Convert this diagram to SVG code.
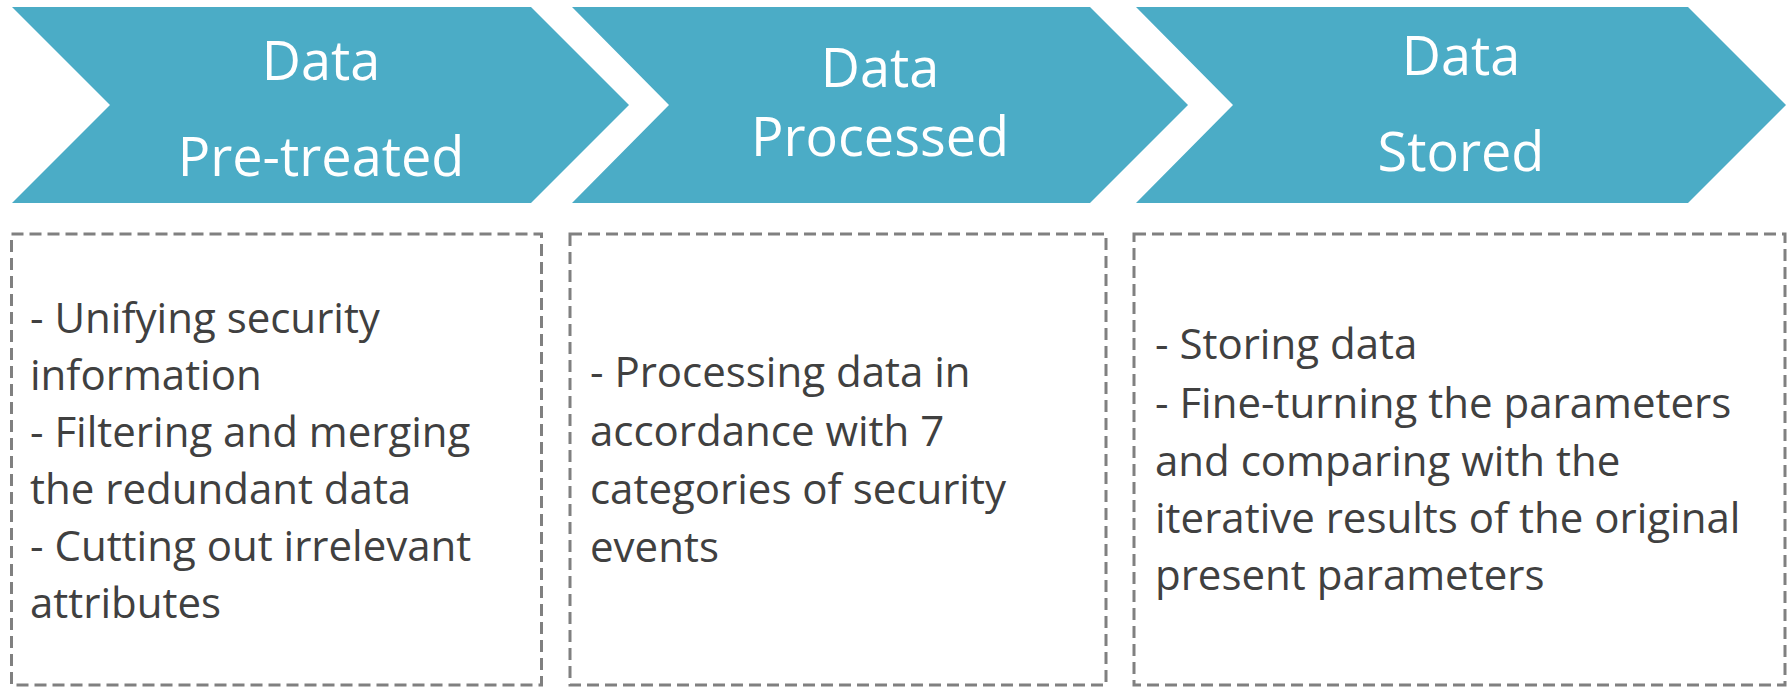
<svg xmlns="http://www.w3.org/2000/svg" width="1788" height="687" viewBox="0 0 1788 687">
<style>
.chev{fill:#4BACC6;stroke:none}
.title{font-family:"Open Sans","Liberation Sans",sans-serif;font-size:54px;fill:#FFFFFF;text-anchor:middle}
.box{fill:#FFFFFF;stroke:#808080;stroke-width:3;stroke-dasharray:12 6}
.body{font-family:"Open Sans","Liberation Sans",sans-serif;font-size:42px;fill:#404040}
</style>
<rect width="1788" height="687" fill="#FFFFFF"/>
<g id="stage-pretreated">
<polygon class="chev" points="12,7 531,7 629,105 531,203 12,203 110,105"/>
<text class="title" x="321" y="80">Data</text>
<text class="title" x="321" y="176">Pre-treated</text>
</g>
<g id="stage-processed">
<polygon class="chev" points="572,7 1090,7 1188,105 1090,203 572,203 669,105"/>
<text class="title" x="880" y="87">Data</text>
<text class="title" x="880" y="156">Processed</text>
</g>
<g id="stage-stored">
<polygon class="chev" points="1136,7 1688,7 1786,105 1688,203 1136,203 1233,105"/>
<text class="title" x="1461" y="75">Data</text>
<text class="title" x="1461" y="171">Stored</text>
</g>
<g id="box-pretreated">
<rect class="box" x="11.5" y="234" width="530" height="451"/>
<text class="body" x="30" y="333">- Unifying security</text>
<text class="body" x="30" y="390">information</text>
<text class="body" x="30" y="447">- Filtering and merging</text>
<text class="body" x="30" y="504">the redundant data</text>
<text class="body" x="30" y="561">- Cutting out irrelevant</text>
<text class="body" x="30" y="618">attributes</text>
</g>
<g id="box-processed">
<rect class="box" x="570" y="234" width="536" height="451"/>
<text class="body" x="590" y="387">- Processing data in</text>
<text class="body" x="590" y="446">accordance with 7</text>
<text class="body" x="590" y="504">categories of security</text>
<text class="body" x="590" y="562">events</text>
</g>
<g id="box-stored">
<rect class="box" x="1134" y="234" width="651" height="451"/>
<text class="body" x="1155" y="359">- Storing data</text>
<text class="body" x="1155" y="418">- Fine-turning the parameters</text>
<text class="body" x="1155" y="476">and comparing with the</text>
<text class="body" x="1155" y="533">iterative results of the original</text>
<text class="body" x="1155" y="590">present parameters</text>
</g>
<g id="connectors"/>
</svg>
